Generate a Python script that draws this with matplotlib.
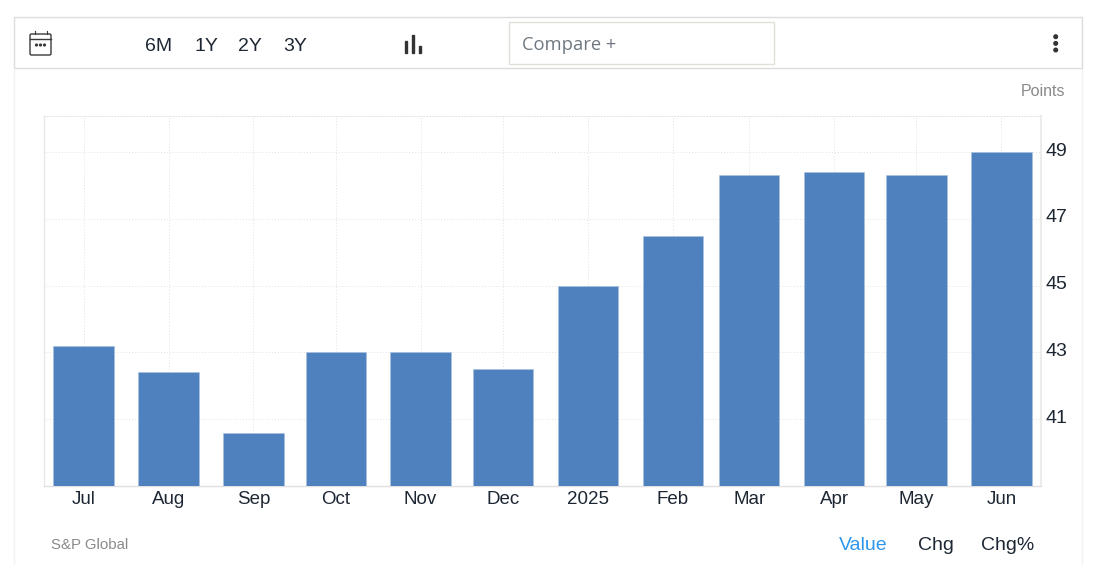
import datetime as dt
import matplotlib
matplotlib.use("Agg")
import matplotlib.pyplot as plt
import matplotlib.dates as mdates
from matplotlib.patches import Rectangle, FancyBboxPatch, Circle
from matplotlib.transforms import ScaledTranslation

plt.rcParams['font.family'] = ['Liberation Sans', 'DejaVu Sans']

months = [dt.date(2024, 7, 1), dt.date(2024, 8, 1), dt.date(2024, 9, 1), dt.date(2024, 10, 1),
          dt.date(2024, 11, 1), dt.date(2024, 12, 1), dt.date(2025, 1, 1), dt.date(2025, 2, 1),
          dt.date(2025, 3, 1), dt.date(2025, 4, 1), dt.date(2025, 5, 1), dt.date(2025, 6, 1)]
values = [43.2, 42.4, 40.6, 43.0, 43.0, 42.5, 45.0, 46.5, 48.3, 48.4, 48.3, 49.0]
month_labels = ['Jul', 'Aug', 'Sep', 'Oct', 'Nov', 'Dec', '2025', 'Feb', 'Mar', 'Apr', 'May', 'Jun']
y_ticks = [41, 43, 45, 47, 49]
range_labels = ['6M', '1Y', '2Y', '3Y']
range_x = [159, 206, 250, 295]

W, H = 1098, 565
fig = plt.figure(figsize=(W / 100, H / 100), dpi=100, facecolor='white')

# page furniture, in pixel coordinates
bg = fig.add_axes([0, 0, 1, 1])
bg.set_xlim(0, W)
bg.set_ylim(H, 0)
bg.axis('off')

bg.plot([14, 14], [69, H], color='#f2f2f2', lw=1)
bg.plot([1082, 1082], [69, H], color='#f2f2f2', lw=1)
bg.add_patch(Rectangle((14, 17), 1068, 51, fc='white', ec='#dcdcdc', lw=1))
bg.add_patch(Rectangle((509, 22), 265, 41.5, fc='white', ec='#e0e0da', lw=1))
bg.text(522, 45.5, 'Compare +', fontsize=13.2, color='#6f7880', family='Open Sans', va='center')

# calendar icon
bg.add_patch(FancyBboxPatch((30, 34), 21, 21, boxstyle='round,pad=0,rounding_size=1.5',
                            fc='none', ec='#3a3a3a', lw=1))
bg.plot([30, 51], [38.5, 38.5], color='#3a3a3a', lw=1)
bg.plot([34.5, 34.5], [31, 34], color='#3a3a3a', lw=0.8)
bg.plot([46.5, 46.5], [31, 34], color='#3a3a3a', lw=0.8)
for cx in [36.5, 40.5, 44.5]:
    bg.add_patch(Circle((cx, 45), 0.9, color='#3a3a3a'))

for lab, x in zip(range_labels, range_x):
    bg.text(x, 46.5, lab, fontsize=14, color='#1d2733', ha='center', va='center')

# bar chart icon
for x0, top in zip([406.2, 413, 420], [41, 35, 46]):
    bg.add_patch(Rectangle((x0 - 1.2, top), 2.4, 52.5 - top, color='#333333'))

# menu dots
for cy in [36.7, 43.4, 50]:
    bg.add_patch(Circle((1055.7, cy), 1.8, color='#333333'))

bg.text(1065.5, 92, 'Points', fontsize=11.5, color='#8a8a8a', ha='right', va='center')
bg.text(51, 545, 'S&P Global', fontsize=10.8, color='#8a8a8a', va='center')
bg.text(863, 545, 'Value', fontsize=14, color='#2f96ee', ha='center', va='center')
bg.text(936, 545, 'Chg', fontsize=14, color='#1d2733', ha='center', va='center')
bg.text(1008, 545, 'Chg%', fontsize=14, color='#1d2733', ha='center', va='center')
bg.set_zorder(0)

# chart itself
left, right, top, bottom = 44, 1041, 116, 486
ax = fig.add_axes([left / W, 1 - bottom / H, (right - left) / W, (bottom - top) / H])
ax.set_zorder(1)
ax.patch.set_alpha(0)

x = mdates.date2num(months)
ax.bar(x, values, width=22, color='#4e81bd', edgecolor='#a9c2e0', linewidth=0.4, zorder=3)

ax.set_xlim(x[0] - 14.45, x[0] + 349.45)
ax.set_ylim(39, 50.08)
ax.set_xticks(x)
ax.set_xticklabels(month_labels)
ax.set_yticks(y_ticks)
ax.yaxis.tick_right()
ax.tick_params(axis='both', length=0, labelsize=13.5, labelcolor='#1d2733')
ax.tick_params(axis='x', pad=3.5)
ax.tick_params(axis='y', pad=3.5, labelsize=14)
ax.grid(True, color='#e2e2e2', linestyle=(0, (1, 2)), linewidth=0.7, zorder=0)
ax.set_axisbelow(True)

# value labels sit a little above their gridlines
lift = ScaledTranslation(0, 3 / 72 * 0.72, fig.dpi_scale_trans)
for lab in ax.get_yticklabels():
    lab.set_transform(lab.get_transform() + lift)

ax.spines['top'].set_color('#e2e2e2')
ax.spines['top'].set_linestyle((0, (1, 2)))
ax.spines['top'].set_linewidth(0.7)
ax.spines['left'].set_color('#e8e8e8')
ax.spines['left'].set_linewidth(1)
ax.spines['right'].set_color('#ececec')
ax.spines['right'].set_linewidth(1.5)
ax.spines['bottom'].set_color('#e0e0e0')
ax.spines['bottom'].set_linewidth(1)

fig.savefig('out.png', dpi=100, facecolor='white')
